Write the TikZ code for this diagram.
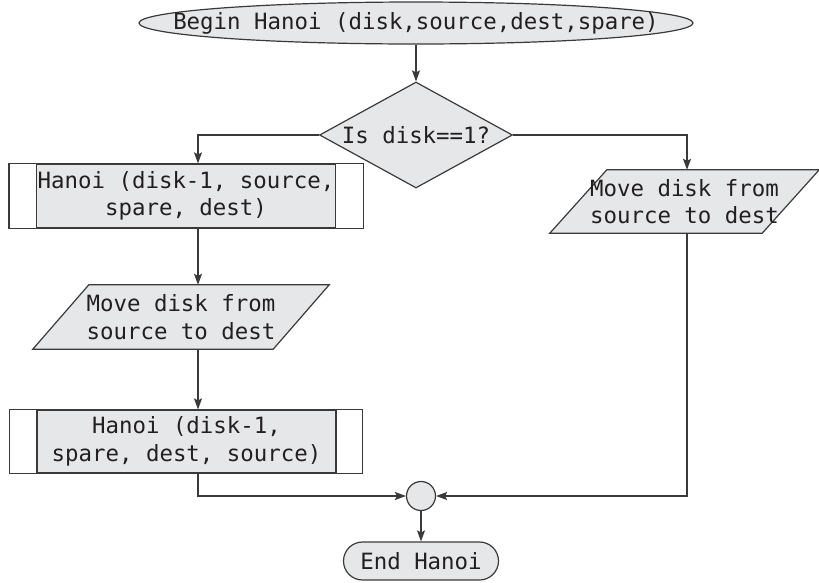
\documentclass[tikz,border=0pt]{standalone}
\usepackage{fontspec}
\setmonofont{DejaVu Sans Mono}
\usetikzlibrary{shapes.geometric,arrows.meta}
\pgfdeclarelayer{bg}
\pgfsetlayers{bg,main}
\definecolor{boxfill}{HTML}{E6E7E8}
\definecolor{ink}{HTML}{3A3A3A}
\definecolor{txt}{HTML}{231F20}
\tikzset{
  label font/.style={text=txt, font=\ttfamily\fontsize{22.4}{27.5}\selectfont, align=center, inner sep=0pt},
  base/.style={label font, draw=ink, line width=1.2pt, fill=boxfill},
  terminal/.style={base, ellipse},
  decision/.style={base, diamond},
  procbox/.style={base, rectangle, minimum width=299, minimum height=64},
  iobody/.style={label font, rectangle, minimum height=64},
  outline/.style={draw=ink, line width=1.2pt, fill=boxfill, line join=miter},
  strip/.style={draw=ink, line width=1.2pt},
  junction/.style={base, circle, minimum size=29},
  arr/.style={draw=ink, line width=1.2pt, -{Stealth[length=11pt,width=8pt,inset=2pt]}},
}
\begin{document}
\begin{tikzpicture}[x=1pt,y=-1pt]
\useasboundingbox (0,0) rectangle (819,582);

% columns for the vertical connectors
\coordinate (lc) at (198,0);
\coordinate (rc) at (687,0);

% start terminal
\node[terminal, minimum width=554, minimum height=42] (start) at (416,23)
  {\makebox[0pt]{Begin Hanoi (disk,source,dest,spare)}};

% decision
\node[decision, minimum width=193, minimum height=106] (dec) at (416,135)
  {\makebox[0pt]{Is disk==1?}};

% first recursive call (predefined process)
\node[procbox] (b1) at (186,196) {Hanoi (disk-1, source,\\spare, dest)};
\draw[strip] (b1.north west) -- ++(-27,0) |- (b1.south west);
\draw[strip] (b1.north east) -- ++(27,0) |- (b1.south east);

% left move (parallelogram)
\node[iobody, minimum width=296] (p1) at (181,317) {Move disk from\\source to dest};
\begin{pgfonlayer}{bg}
  \draw[outline] ([xshift=56pt]p1.north west) -- (p1.north east)
    -- ([xshift=-56pt]p1.south east) -- (p1.south west) -- cycle;
\end{pgfonlayer}

% second recursive call (predefined process)
\node[procbox, minimum height=63] (b2) at (186.5,441.5) {Hanoi (disk-1,\\spare, dest, source)};
\draw[strip] (b2.north west) -- ++(-27,0) |- (b2.south west);
\draw[strip] (b2.north east) -- ++(26,0) |- (b2.south east);

% right move (parallelogram)
\node[iobody, minimum width=269, minimum height=63] (p2) at (684.5,201.5) {Move disk from\\source to dest};
\begin{pgfonlayer}{bg}
  \draw[outline] ([xshift=57pt]p2.north west) -- (p2.north east)
    -- ([xshift=-57pt]p2.south east) -- (p2.south west) -- cycle;
\end{pgfonlayer}

% junction and end terminal
\node[junction] (join) at (421,496) {};
\node[base, rounded corners=19pt, minimum width=155, minimum height=38] (stop) at (421,561) {End Hanoi};

% connectors
\draw[arr] (start.south) -- (dec.north);
\draw[arr] (dec.west) -| (lc |- b1.north);
\draw[arr] (dec.east) -| (rc |- p2.north);
\draw[arr] (lc |- b1.south) -- (lc |- p1.north);
\draw[arr] (lc |- p1.south) -- (lc |- b2.north);
\draw[arr] (lc |- b2.south) |- (join.west);
\draw[arr] (rc |- p2.south) |- (join.east);
\draw[arr] (join.south) -- (stop.north);
\end{tikzpicture}
\end{document}
